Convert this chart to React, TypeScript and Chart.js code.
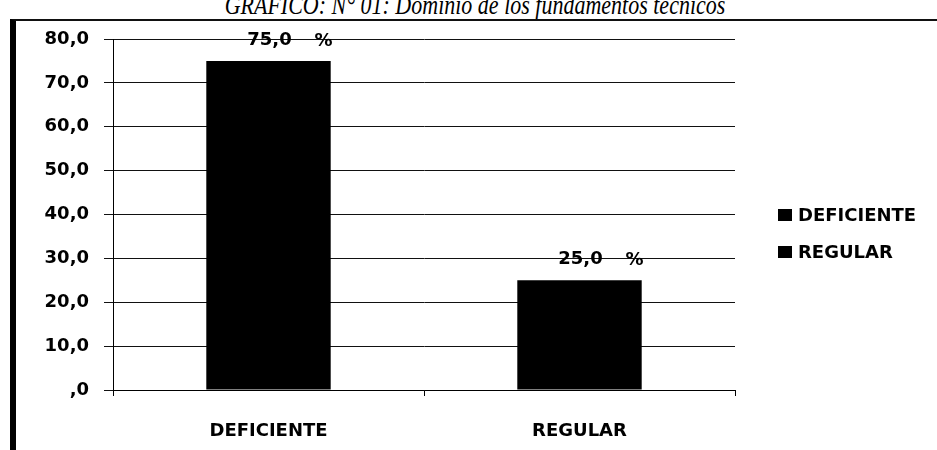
import React, { useEffect, useRef } from "react";
import { Chart, registerables } from "chart.js";

Chart.register(...registerables);

const titleText = "GRAFICO: N° 01: Dominio de los fundamentos técnicos";
const categories = ["DEFICIENTE", "REGULAR"];
const seriesNames = ["DEFICIENTE", "REGULAR"];
const deficienteValues: (number | null)[] = [75.0, null];
const regularValues: (number | null)[] = [null, 25.0];
const yMin = 0;
const yMax = 80;
const yStep = 10;

const FONT = "'DejaVu Sans', Verdana, sans-serif";

const fmt = (v: number) => (v === 0 ? ",0" : v.toFixed(1).replace(".", ","));

const overlayPlugin = {
  id: "overlay",
  afterDatasetsDraw(chart: any) {
    const ctx = chart.ctx;
    ctx.save();
    ctx.fillStyle = "#000";
    ctx.font = `bold 18px ${FONT}`;
    ctx.textAlign = "center";
    ctx.textBaseline = "middle";
    chart.data.datasets.forEach((ds: any, i: number) => {
      const meta = chart.getDatasetMeta(i);
      meta.data.forEach((el: any, j: number) => {
        const v = ds.data[j];
        if (v === null || v === undefined) return;
        const y = el.y - 21;
        ctx.fillText(fmt(v), el.x + 1, y);
        ctx.fillText("%", el.x + 55, y + 1);
      });
    });
    ctx.restore();
  },
  afterDraw(chart: any) {
    const ctx = chart.ctx;
    ctx.save();
    ctx.font = `bold 18px ${FONT}`;
    ctx.textAlign = "left";
    ctx.textBaseline = "middle";
    const x0 = 778;
    const ys = [215, 252];
    chart.data.datasets.forEach((ds: any, i: number) => {
      const y = ys[i];
      ctx.fillStyle = ds.backgroundColor;
      ctx.fillRect(x0, y - 6, 14, 12);
      ctx.fillStyle = "#000";
      ctx.fillText(ds.label, x0 + 20, y + 1);
    });
    ctx.restore();
  },
};

export default function App() {
  const ref = useRef<HTMLCanvasElement | null>(null);

  useEffect(() => {
    document.body.style.margin = "0";
    const canvas = ref.current;
    if (!canvas) return;
    const chart = new Chart(canvas, {
      type: "bar",
      data: {
        labels: categories,
        datasets: [
          {
            label: seriesNames[0],
            data: deficienteValues,
            backgroundColor: "#000",
            borderWidth: 0,
            grouped: false,
            categoryPercentage: 0.5,
            barPercentage: 0.8,
          } as any,
          {
            label: seriesNames[1],
            data: regularValues,
            backgroundColor: "#000",
            borderWidth: 0,
            grouped: false,
            categoryPercentage: 0.5,
            barPercentage: 0.8,
          } as any,
        ],
      },
      options: {
        responsive: false,
        animation: false,
        devicePixelRatio: 1,
        layout: { padding: { top: 39, right: 202, bottom: 0, left: 0 } },
        plugins: {
          legend: { display: false },
          tooltip: { enabled: false },
          title: { display: false },
        },
        events: [],
        scales: {
          x: {
            offset: true,
            grid: {
              display: true,
              offset: true,
              drawOnChartArea: false,
              drawTicks: true,
              tickLength: 6,
              color: "#000",
            },
            border: { display: true, color: "#000", width: 1 },
            ticks: {
              color: "#000",
              font: { family: FONT, size: 18, weight: "bold" },
              padding: 25,
            },
            afterFit: (s: any) => {
              s.height = 60;
            },
          },
          y: {
            min: yMin,
            max: yMax,
            ticks: {
              stepSize: yStep,
              color: "#000",
              font: { family: FONT, size: 18, weight: "bold" },
              padding: 15,
              callback: (v: any) => fmt(Number(v)),
            },
            grid: {
              color: "#111",
              lineWidth: 1,
              drawTicks: true,
              tickLength: 9,
            },
            border: { display: true, color: "#000", width: 1 },
            afterFit: (s: any) => {
              s.width = 113;
            },
          },
        },
      },
      plugins: [overlayPlugin],
    });
    return () => chart.destroy();
  }, []);

  return (
    <div
      style={{
        position: "relative",
        width: 937,
        height: 450,
        overflow: "hidden",
        background: "#fff",
      }}
    >
      <div
        style={{
          position: "absolute",
          left: 0,
          width: 950,
          top: -4,
          textAlign: "center",
          fontFamily: "'Liberation Serif', 'DejaVu Serif', serif",
          fontStyle: "italic",
          fontSize: 22,
          lineHeight: "24px",
          color: "#000",
          whiteSpace: "nowrap",
          transform: "scaleY(1.2)",
          transformOrigin: "50% 100%",
        }}
      >
        {titleText}
      </div>
      <div
        style={{
          position: "absolute",
          left: 10,
          top: 19,
          width: 1000,
          height: 600,
          borderLeft: "6px solid #000",
          borderTop: "2px solid #111",
        }}
      />
      <canvas
        ref={ref}
        width={937}
        height={450}
        style={{ position: "absolute", left: 0, top: 0, width: 937, height: 450 }}
      />
    </div>
  );
}
